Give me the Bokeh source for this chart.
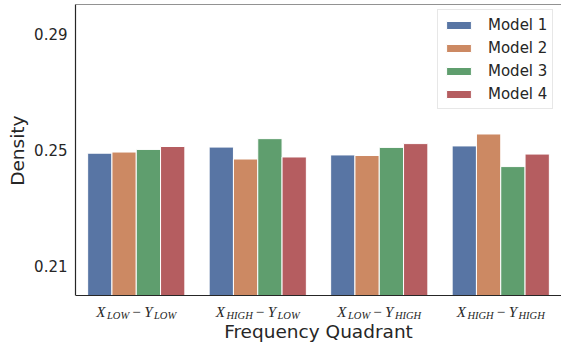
from bokeh.plotting import figure
from bokeh.models import FactorRange, Range1d, FixedTicker, Span, ColumnDataSource, Title
from bokeh.core.properties import value
from bokeh.transform import dodge
from bokeh.embed import file_html
from bokeh.resources import INLINE

# ---- data ----
quadrants = ["X_LOW - Y_LOW", "X_HIGH - Y_LOW", "X_LOW - Y_HIGH", "X_HIGH - Y_HIGH"]
x_subs = ["LOW", "HIGH", "LOW", "HIGH"]
y_subs = ["LOW", "LOW", "HIGH", "HIGH"]
models = ["Model 1", "Model 2", "Model 3", "Model 4"]
model1 = [0.2489, 0.2510, 0.2483, 0.2514]
model2 = [0.2493, 0.2469, 0.2481, 0.2555]
model3 = [0.2502, 0.2539, 0.2509, 0.2443]
model4 = [0.2512, 0.2476, 0.2522, 0.2486]
series = [model1, model2, model3, model4]
y_ticks = [0.21, 0.25, 0.29]
y_start, y_end = 0.20, 0.30
x_title = "Frequency Quadrant"
y_title = "Density"

# ---- style / layout ----
colors = ["#5875A4", "#CC8963", "#5F9E6E", "#B55D60"]
dark = "#262626"
font = "DejaVu Sans"
px_per_unit = 2910.0      # vertical pixels per density unit
label_room = 54           # pixels of frame kept below y_start for the x labels
y_low = y_start - label_room / px_per_unit

p = figure(width=561, height=349, x_range=FactorRange(*quadrants),
           y_range=Range1d(y_low, y_end), output_backend="svg",
           toolbar_location=None, min_border_left=75, min_border_right=0,
           min_border_top=4, min_border_bottom=0)
p.outline_line_color = None
p.grid.grid_line_color = None
p.background_fill_color = "white"
p.xaxis.visible = False

bar_w = 0.2
for j, (m, vals) in enumerate(zip(models, series)):
    off = (j - 1.5) * bar_w
    p.vbar(x=dodge("q", off, range=p.x_range), top="v", bottom=y_start, width=bar_w,
           source={"q": quadrants, "v": vals}, fill_color=colors[j],
           line_color="white", line_width=1, legend_label=m)

# spines (top and bottom)
p.add_layout(Span(location=y_end, dimension="width", line_color=dark, line_width=1.2))
p.add_layout(Span(location=y_start, dimension="width", line_color=dark, line_width=1.2))

# y axis
ya = p.yaxis[0]
ya.ticker = FixedTicker(ticks=y_ticks)
ya.bounds = (y_start, y_end)
ya.major_tick_out = 0
ya.major_tick_in = 0
ya.minor_tick_out = 0
ya.minor_tick_in = 0
ya.axis_line_color = dark
ya.axis_line_width = 1.2
ya.major_label_text_font = font
ya.major_label_text_font_size = "15px"
ya.major_label_text_color = dark
ya.major_label_standoff = 8

p.add_layout(Title(text=y_title, align="right", offset=111, standoff=8,
                   text_font=font, text_font_size="18.5px", text_font_style="normal",
                   text_color=dark), "left")

# math-like tick labels: X_sub − Y_sub
main_fs, sub_fs = 15, 10.5
cw = {"X": 0.611, "Y": 0.556, "L": 0.556, "O": 0.722, "W": 0.833,
      "H": 0.722, "I": 0.333, "G": 0.722}
def wid(s, fs):
    return sum(cw[c] for c in s) * fs
minus_w = 0.564 * main_fs

piece_defs = [(["X"] * 4, main_fs, "italic", 0, 1.5),
              (x_subs, sub_fs, "italic", 3.5, 3.0),
              (["\u2212"] * 4, main_fs, "normal", 0, 3.5),
              (["Y"] * 4, main_fs, "italic", 0, 1.5),
              (y_subs, sub_fs, "italic", 3.5, 0)]
offsets = [[] for _ in piece_defs]
for i in range(len(quadrants)):
    widths = []
    for txts, fs, st, dy, gap in piece_defs:
        w = minus_w if txts[i] == "\u2212" else wid(txts[i], fs)
        widths.append(w + gap)
    cur = -sum(widths) / 2
    for k, w in enumerate(widths):
        offsets[k].append(cur)
        cur += w

for k, (txts, fs, st, dy, gap) in enumerate(piece_defs):
    src = ColumnDataSource(dict(q=quadrants, y=[y_start] * len(quadrants), t=txts, xo=offsets[k]))
    p.text(x="q", y="y", text="t", x_offset="xo", y_offset=16 + dy, source=src,
           text_font=value("Liberation Serif"), text_font_style=st,
           text_font_size=f"{fs}px", text_color=dark, text_align="left",
           text_baseline="alphabetic")

# x axis title, centred on the category range
p.text(x=[len(quadrants) / 2], y=[y_start], text=[x_title], y_offset=35.5,
       text_font=value(font), text_font_size="18.5px", text_color=dark,
       text_align="center", text_baseline="alphabetic")

# legend
lg = p.legend[0]
lg.location = (362, 186 + label_room)
lg.margin = 0
lg.padding = 5
lg.spacing = 4
lg.label_height = 19
lg.glyph_height = 10
lg.glyph_width = 31
lg.label_standoff = 14
lg.label_text_font = font
lg.label_text_font_size = "15px"
lg.label_text_color = dark
lg.border_line_color = "#d0d0d0"
lg.border_line_width = 1
lg.background_fill_alpha = 0.8

open("out.html", "w").write(file_html(p, INLINE))
